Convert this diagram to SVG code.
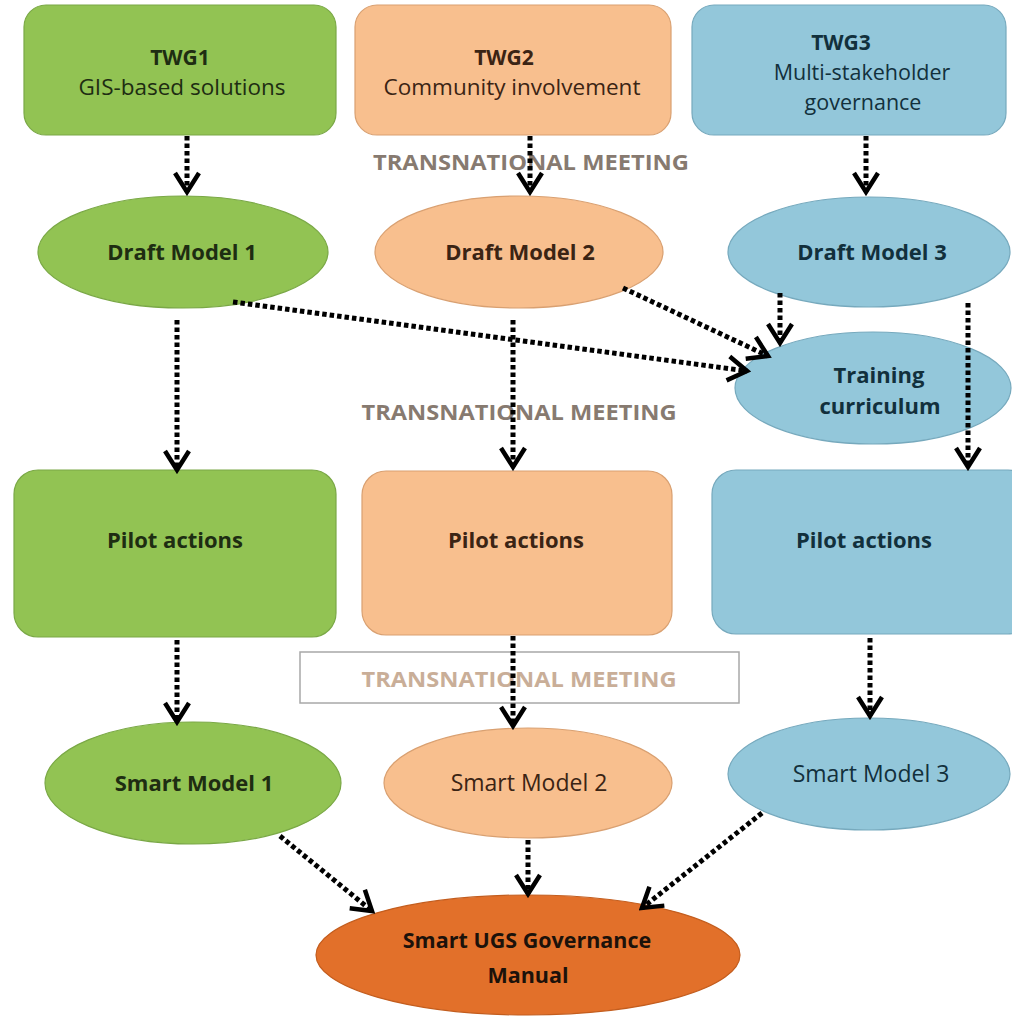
<svg xmlns="http://www.w3.org/2000/svg" width="1012" height="1016" viewBox="0 0 1012 1016">
<style>
text{font-family:"Open Sans","Liberation Sans",sans-serif;text-anchor:middle}
.b{font-weight:bold}
.g{fill:#92c353;stroke:#7aa846;stroke-width:1.2}
.p{fill:#f8bf8e;stroke:#d9a071;stroke-width:1.2}
.c{fill:#93c7da;stroke:#76a9bd;stroke-width:1.2}
.o{fill:#e2702a;stroke:#c35d1e;stroke-width:1.2}
.tg{fill:#1e2d12}
.tp{fill:#3b2414}
.tc{fill:#12303c}
.to{fill:#1c120a}
.tm{font-weight:bold;font-size:21px;fill:#877a70}
.conn path{fill:none;stroke:#000;stroke-width:5;stroke-dasharray:4.5 3;marker-end:url(#ah)}
</style>
<defs>
<marker id="ah" viewBox="-22 -16 26 32" markerWidth="26" markerHeight="32" refX="0" refY="0" orient="auto" markerUnits="userSpaceOnUse">
<path d="M-19,-12 L0,0 L-19,12" fill="none" stroke="#000" stroke-width="4.5" stroke-dasharray="none"/>
</marker>
</defs>
<rect width="1012" height="1016" fill="#fff"/>

<g id="twg1"><rect class="g" x="24" y="5" width="312" height="130" rx="22"/>
<text class="b tg" x="180" y="65" font-size="21">TWG1</text>
<text class="tg" x="182" y="95" font-size="22.5">GIS-based solutions</text></g>
<g id="twg2"><rect class="p" x="355" y="5" width="316" height="130" rx="22"/>
<text class="b tp" x="504" y="65" font-size="21">TWG2</text>
<text class="tp" x="512" y="95" font-size="22.5">Community involvement</text></g>
<g id="twg3"><rect class="c" x="692" y="5" width="314" height="130" rx="22"/>
<text class="b tc" x="841" y="50" font-size="21">TWG3</text>
<text class="tc" x="862" y="80" font-size="21.5">Multi-stakeholder</text>
<text class="tc" x="863" y="110" font-size="21.5">governance</text></g>

<g id="meeting1"><text class="tm" x="531" y="170" textLength="316" lengthAdjust="spacingAndGlyphs">TRANSNATIONAL MEETING</text></g>

<g id="draft1"><ellipse class="g" cx="183" cy="252" rx="145" ry="56"/>
<text class="b tg" x="182" y="260" font-size="22">Draft Model 1</text></g>
<g id="draft2"><ellipse class="p" cx="519" cy="252" rx="144" ry="56"/>
<text class="b tp" x="520" y="260" font-size="22">Draft Model 2</text></g>
<g id="draft3"><ellipse class="c" cx="869" cy="252" rx="141" ry="55"/>
<text class="b tc" x="872" y="260" font-size="22">Draft Model 3</text></g>

<g id="training"><ellipse class="c" cx="873" cy="388" rx="138" ry="56"/>
<text class="b tc" x="879" y="383" font-size="22">Training</text>
<text class="b tc" x="880" y="414" font-size="22">curriculum</text></g>

<g id="meeting2"><text class="tm" x="519" y="420" textLength="315" lengthAdjust="spacingAndGlyphs">TRANSNATIONAL MEETING</text></g>

<g id="pilot1"><rect class="g" x="14" y="470" width="322" height="167" rx="24"/>
<text class="b tg" x="175" y="548" font-size="22">Pilot actions</text></g>
<g id="pilot2"><rect class="p" x="362" y="471" width="310" height="164" rx="24"/>
<text class="b tp" x="516" y="548" font-size="22">Pilot actions</text></g>
<g id="pilot3"><rect class="c" x="712" y="470" width="320" height="164" rx="24"/>
<text class="b tc" x="864" y="548" font-size="22">Pilot actions</text></g>

<g id="meeting3"><rect x="300" y="652" width="439" height="51" fill="#fff" stroke="#a8a8a8" stroke-width="1.5"/>
<text class="tm" x="519" y="687" style="fill:#c9ae98" textLength="315" lengthAdjust="spacingAndGlyphs">TRANSNATIONAL MEETING</text></g>

<g id="smart1"><ellipse class="g" cx="193" cy="783" rx="148" ry="61"/>
<text class="b tg" x="194" y="791" font-size="22">Smart Model 1</text></g>
<g id="smart2"><ellipse class="p" cx="528" cy="783" rx="144" ry="55"/>
<text class="tp" x="529" y="791" font-size="23">Smart Model 2</text></g>
<g id="smart3"><ellipse class="c" cx="869" cy="774" rx="141" ry="56"/>
<text class="tc" x="871" y="782" font-size="23">Smart Model 3</text></g>

<g id="manual"><ellipse class="o" cx="528" cy="955" rx="212" ry="60"/>
<text class="b to" x="527" y="948" font-size="21.5">Smart UGS Governance</text>
<text class="b to" x="528" y="983" font-size="21.5">Manual</text></g>

<g id="connectors" class="conn">
<path d="M187,136 L187,192"/>
<path d="M530,136 L530,192"/>
<path d="M866,136 L866,192"/>
<path d="M177,320 L177,470"/>
<path d="M233,302 L747,371"/>
<path d="M623,288 L768,356"/>
<path d="M780,293 L780,343"/>
<path d="M513,320 L513,467"/>
<path d="M968,303 L968,467"/>
<path d="M177,640 L177,722"/>
<path d="M513,636 L513,726"/>
<path d="M870,638 L870,716"/>
<path d="M280,836 L372,911"/>
<path d="M528,840 L528,894"/>
<path d="M762,813 L642,908"/>
</g>
</svg>
